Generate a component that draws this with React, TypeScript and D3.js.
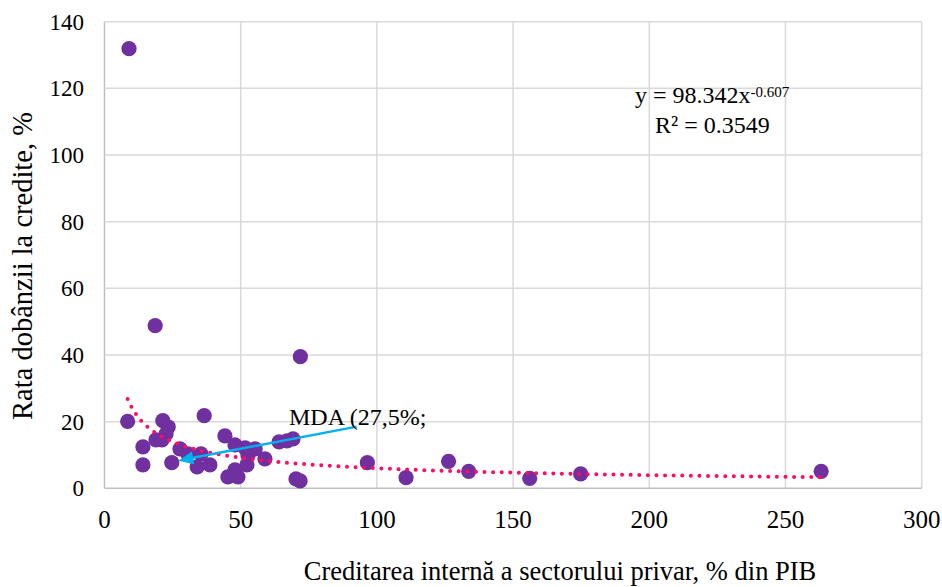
import React from "react";
import * as d3 from "d3";

const xValues = [9.0, 18.6, 71.9, 8.5, 36.6, 21.4, 23.4, 22.6, 18.9, 21.1, 14.1, 14.1, 24.7, 27.7, 30.6, 35.4, 34.0, 38.7, 44.2, 47.9, 51.6, 55.3, 52.7, 58.9, 52.3, 47.9, 45.3, 49.0, 64.1, 69.2, 67.0, 70.3, 71.8, 96.5, 110.7, 126.3, 133.7, 156.1, 174.8, 263.1];
const yValues = [131.9, 48.8, 39.5, 20.1, 21.8, 20.3, 18.4, 16.3, 14.5, 14.5, 12.4, 7.0, 7.7, 11.8, 10.3, 10.3, 6.4, 7.0, 15.7, 13.0, 12.1, 11.8, 10.0, 8.8, 7.0, 5.5, 3.4, 3.4, 13.9, 14.8, 14.2, 2.8, 2.2, 7.7, 3.2, 8.1, 5.1, 3.0, 4.3, 5.1];
const xTicks = [0, 50, 100, 150, 200, 250, 300];
const yTicks = [0, 20, 40, 60, 80, 100, 120, 140];
const trendCoef = 98.342;
const trendExp = -0.607;
const rSquared = 0.3549;
const xTitle = "Creditarea internă a sectorului privar, % din PIB";
const yTitle = "Rata dobânzii la credite, %";
const annotationText = "MDA (27,5%;";
const arrowTip = [27.1, 8.3];
const arrowTail = [92.6, 18.5];

export default function App() {
  const W = 942, H = 587;
  const x = d3.scaleLinear().domain([0, 300]).range([104.5, 921.7]);
  const y = d3.scaleLinear().domain([0, 140]).range([488.3, 21.7]);
  const font = '"Liberation Serif", "Times New Roman", serif';
  const pts = xValues.map((v, i) => [v, yValues[i]]);
  const xmin = d3.min(xValues) as number;
  const xmax = d3.max(xValues) as number;
  const trendPts = d3.range(0, 201).map((i) => {
    const xv = xmin + ((xmax - xmin) * i) / 200;
    return [xv, trendCoef * Math.pow(xv, trendExp)];
  });
  const line = d3.line<number[]>().x((d) => x(d[0])).y((d) => y(d[1]));

  const tx = x(arrowTip[0]), ty = y(arrowTip[1]);
  const sx = x(arrowTail[0]), sy = y(arrowTail[1]);
  const ang = Math.atan2(ty - sy, tx - sx);
  const hl = 15, hw = 6.5;
  const bx = tx - hl * Math.cos(ang), by = ty - hl * Math.sin(ang);
  const p1 = [bx + hw * Math.sin(ang), by - hw * Math.cos(ang)];
  const p2 = [bx - hw * Math.sin(ang), by + hw * Math.cos(ang)];
  const st = (size: number): React.CSSProperties => ({ fontFamily: font, fontSize: size });

  return (
    <svg width={W} height={H} style={{ position: "absolute", left: 0, top: 0, background: "#fff" }}>
      <rect x={0} y={0} width={W} height={H} fill="#fff" />
      {xTicks.map((t) => (
        <line key={"gx" + t} x1={x(t)} x2={x(t)} y1={y(0)} y2={y(140)} stroke={t === 0 ? "#bfbfbf" : "#d9d9d9"} strokeWidth={1.5} />
      ))}
      {yTicks.map((t) => (
        <line key={"gy" + t} x1={x(0)} x2={x(300)} y1={y(t)} y2={y(t)} stroke={t === 0 ? "#bfbfbf" : "#d9d9d9"} strokeWidth={1.5} />
      ))}
      {yTicks.map((t) => (
        <text key={"ty" + t} x={84} y={y(t)} dy="0.35em" textAnchor="end" style={st(23)} fill="#000">{t}</text>
      ))}
      {xTicks.map((t) => (
        <text key={"tx" + t} x={x(t)} y={528} textAnchor="middle" style={st(25)} fill="#000">{t}</text>
      ))}
      <text x={560} y={580} textAnchor="middle" style={st(26.5)} fill="#000">{xTitle}</text>
      <text transform={`translate(32,266) rotate(-90)`} textAnchor="middle" style={st(28.5)} fill="#000">{yTitle}</text>
      {pts.map((p, i) => (
        <circle key={"p" + i} cx={x(p[0])} cy={y(p[1])} r={7.6} fill="#7030a0" />
      ))}
      <path d={line(trendPts) || ""} fill="none" stroke="#ff0a64" strokeWidth={4} strokeLinecap="round" strokeDasharray="0 8.6" />
      <line x1={sx} y1={sy} x2={bx} y2={by} stroke="#00b0f0" strokeWidth={2.5} />
      <polygon points={`${tx},${ty} ${p1[0]},${p1[1]} ${p2[0]},${p2[1]}`} fill="#00b0f0" />
      <text x={289} y={425} style={st(24)} fill="#000">{annotationText}</text>
      <text x={635} y={103} style={st(24)} fill="#000">
        y = {trendCoef}x<tspan style={{ fontSize: 15 }} dy={-6}>{trendExp}</tspan>
      </text>
      <text x={655} y={133} style={st(24)} fill="#000">R² = {rSquared}</text>
    </svg>
  );
}
